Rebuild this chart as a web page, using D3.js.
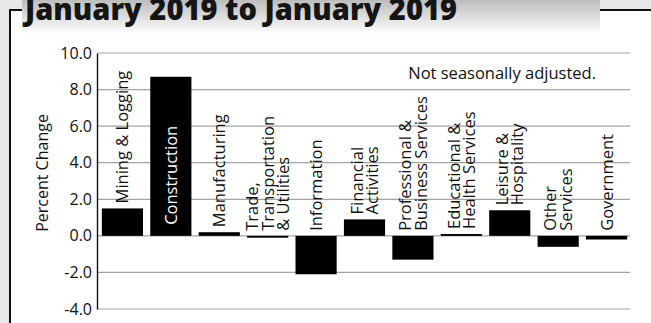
<!DOCTYPE html>
<html>
<head>
<meta charset="utf-8">
<script src="https://cdn.jsdelivr.net/npm/d3@7"></script>
<style>
  html, body { margin: 0; padding: 0; background: #e6e7e8; }
  svg { display: block; font-family: "Open Sans", "Noto Sans", sans-serif; }
</style>
</head>
<body>
<script>
// Industry sectors (line breaks mark wrapped label lines)
const categories = [
  "Mining & Logging",
  "Construction",
  "Manufacturing",
  "Trade,\nTransportation\n& Utilities",
  "Information",
  "Financial\nActivities",
  "Professional &\nBusiness Services",
  "Educational &\nHealth Services",
  "Leisure &\nHospitality",
  "Other\nServices",
  "Government"
];
// Percent change in employment over the year
const values = [1.5, 8.7, 0.2, -0.1, -2.1, 0.9, -1.3, 0.1, 1.4, -0.6, -0.2];
// Value axis ticks
const yTicks = [-4, -2, 0, 2, 4, 6, 8, 10];
const yTickLabels = ["-4.0", "-2.0", "0.0", "2.0", "4.0", "6.0", "8.0", "10.0"];

const W = 651, H = 323;
const svg = d3.select("body").append("svg").attr("width", W).attr("height", H);

// Panel: grey surround, white body with black top/left border
svg.append("rect").attr("x", 0).attr("y", 0).attr("width", W).attr("height", H).attr("fill", "#e6e7e8");
svg.append("rect").attr("x", 10).attr("y", 10).attr("width", W - 10).attr("height", H - 10).attr("fill", "#fff");
svg.append("path").attr("d", `M10,${H} V10 H${W}`).attr("fill", "none").attr("stroke", "#111").attr("stroke-width", 2);

// Title banner with a grey-to-white fade
const defs = svg.append("defs");
const grad = defs.append("linearGradient").attr("id", "titleFade").attr("x1", 0).attr("y1", 0).attr("x2", 0).attr("y2", 1);
grad.append("stop").attr("offset", "0%").attr("stop-color", "#bdbdbd");
grad.append("stop").attr("offset", "100%").attr("stop-color", "#ffffff");
svg.append("rect").attr("x", 22).attr("y", 0).attr("width", 578).attr("height", 34).attr("fill", "url(#titleFade)");
svg.append("text")
  .attr("x", 25).attr("y", 20)
  .attr("font-size", 30).attr("font-weight", 800).attr("fill", "#151515")
  .attr("textLength", 432).attr("lengthAdjust", "spacingAndGlyphs")
  .text("January 2019 to January 2019");

// Scales
const x = d3.scaleBand().domain(categories).range([97, 632]).paddingInner(0.15).paddingOuter(0.1);
const y = d3.scaleLinear().domain([-4, 10]).range([309, 53]);
const plotLeft = 97, plotRight = 630;

// Gridlines
svg.append("g").selectAll("line").data(yTicks).join("line")
  .attr("x1", plotLeft).attr("x2", plotRight)
  .attr("y1", d => y(d)).attr("y2", d => y(d))
  .attr("stroke", "#a3a3a3").attr("stroke-width", 1.2);

// Y axis with tick labels
const yAxis = d3.axisLeft(y).tickValues(yTicks).tickSize(0).tickPadding(5)
  .tickFormat((d, i) => yTickLabels[i]);
const gy = svg.append("g").attr("transform", `translate(${plotLeft},0)`).call(yAxis);
gy.select(".domain").attr("stroke", "#111").attr("stroke-width", 1.4);
gy.selectAll("text").attr("font-size", 16).attr("fill", "#111")
  .attr("font-family", "'Open Sans', 'Noto Sans', sans-serif");

// Axis title
svg.append("text")
  .attr("transform", `translate(48,173) rotate(-90)`)
  .attr("text-anchor", "middle")
  .attr("font-size", 16).attr("fill", "#111")
  .text("Percent Change");

// Bars
svg.append("g").selectAll("rect").data(values).join("rect")
  .attr("x", (d, i) => x(categories[i]))
  .attr("width", x.bandwidth())
  .attr("y", d => y(Math.max(0, d)))
  .attr("height", d => Math.abs(y(d) - y(0)))
  .attr("fill", "#000");

// Rotated sector labels: above the bar (or zero line), inside tall bars
const fs = 16.5, lh = 15.5;
const labels = svg.append("g").attr("font-size", fs);
categories.forEach((c, i) => {
  const v = values[i];
  const inside = v > 5;
  const bottom = inside ? y(0) - 11 : Math.min(y(0), y(v)) - 5;
  const cx = x(c) + x.bandwidth() / 2;
  const lines = c.split("\n");
  const t = labels.append("text")
    .attr("transform", `translate(${cx},${bottom}) rotate(-90)`)
    .attr("text-anchor", "start")
    .attr("fill", inside ? "#fff" : "#111");
  lines.forEach((ln, j) => {
    t.append("tspan")
      .attr("x", 0)
      .attr("y", (j - (lines.length - 1) / 2) * lh + fs * 0.36)
      .text(ln);
  });
});

// Note
svg.append("text")
  .attr("x", 596).attr("y", 79)
  .attr("text-anchor", "end")
  .attr("font-size", 16.5).attr("fill", "#111")
  .text("Not seasonally adjusted.");
</script>
</body>
</html>
